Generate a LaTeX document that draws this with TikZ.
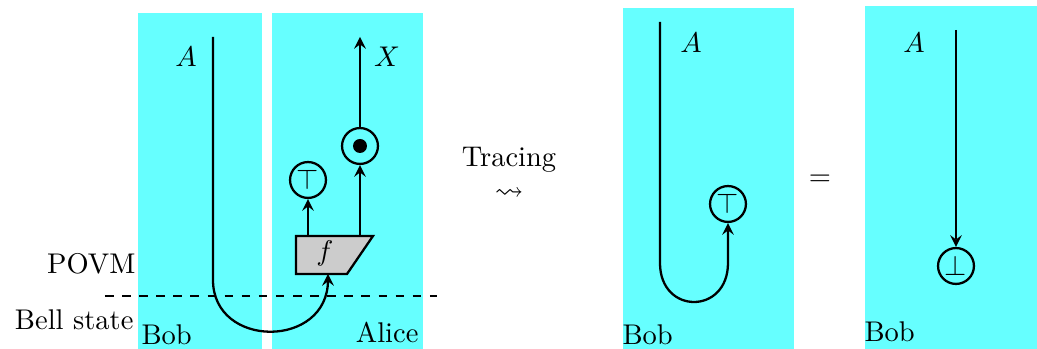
\documentclass[tikz,border=0pt]{standalone}
\usepackage{amsmath, amssymb}
\usepackage{xcolor}
\usepackage{tikz}
\usetikzlibrary{calc, positioning}
\definecolor{region}{RGB}{102,255,255}

\begin{document}
\begin{tikzpicture}[x=0.351pt, y=0.351pt, >=stealth,
    wire/.style={thick},
    effect/.style={circle, draw, thick, minimum size=12.6pt, inner sep=0pt},
    lbl/.style={inner sep=0pt}]
    \useasboundingbox (0,0) rectangle (1037,349);
    % --- Các vùng Bob / Alice (bên trái)
    \fill[region] (138,0) rectangle (262,336);
    \fill[region] (272,0) rectangle (423,336);
    % --- Các vùng Bob (bên phải)
    \fill[region] (623,0) rectangle (794,341);
    \fill[region] (865,0) rectangle (1037,343);

    % Đường ngăn cách POVM / Bell state
    \draw[dashed] (105,53) -- (437,53);
    \node[lbl, anchor=base east] (povm) at (136,75) {POVM};
    \node[lbl, anchor=base east] (bell) at (134,19) {Bell state};
    \node[lbl, anchor=base west] (bobL) at (141,4) {Bob};
    \node[lbl, anchor=base east] (alice) at (419,6) {Alice};

    % Hộp f
    \draw[thick, fill=gray!40] (296,75) -- (347,75) -- (373,113) -- (296,113) -- cycle;
    \node[lbl] (f) at (325,96) {$f$};
    \coordinate (fin) at (328,75);
    \coordinate (fl) at (308,113);
    \coordinate (fr) at (360,113);

    % Dây A đi vòng sang Alice
    \coordinate (aL) at (213,312);
    \draw[wire,->] (aL) -- (213,69) .. controls (213,0) and (328,0) .. (328,69) -- (fin);
    \node[lbl] (labAL) at (186,292) {$A$};

    % Các đầu ra của f
    \node[effect] (topL) at (308,169) {$\top$};
    \node[effect] (copy) at (360,203) {};
    \fill (copy) circle (7);
    \coordinate (xout) at (360,312);
    \draw[wire,->] (fl) -- (topL);
    \draw[wire,->] (fr) -- (copy);
    \draw[wire,->] (copy) -- (xout);
    \node[lbl] (labX) at (387,292) {$X$};

    % Tracing
    \node[lbl, anchor=base] (tracing) at (509,182) {Tracing};
    \node[lbl] (leads) at (509,155) {$\leadsto$};

    % --- Hình giữa
    \coordinate (aM) at (660,327);
    \node[effect] (topM) at (728,145) {$\top$};
    \draw[wire,->] (aM) -- (660,86) .. controls (660,34) and (728,34) .. (728,86) -- (topM);
    \node[lbl] (labAM) at (691,306) {$A$};
    \node[lbl, anchor=base west] (bobM) at (622,4) {Bob};

    \node[lbl] (eq) at (820,169) {$=$};

    % --- Hình phải
    \coordinate (aR) at (956,319);
    \node[effect] (botR) at (956,83) {$\bot$};
    \draw[wire,->] (aR) -- (botR);
    \node[lbl] (labAR) at (914,306) {$A$};
    \node[lbl, anchor=base west] (bobR) at (864,7) {Bob};
\end{tikzpicture}
\end{document}
